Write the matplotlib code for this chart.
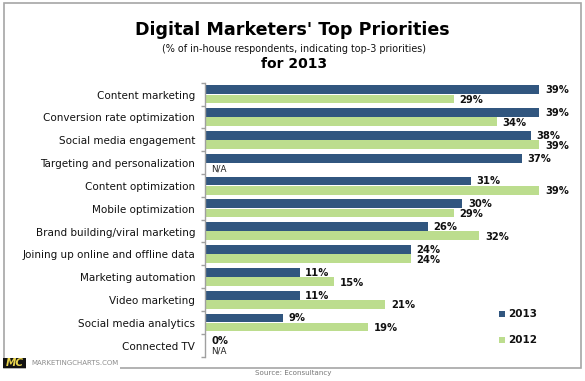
import matplotlib
matplotlib.use("Agg")
import matplotlib.pyplot as plt
from matplotlib.patches import Rectangle
from matplotlib.transforms import offset_copy

categories = ["Content marketing", "Conversion rate optimization", "Social media engagement",
              "Targeting and personalization", "Content optimization", "Mobile optimization",
              "Brand building/viral marketing", "Joining up online and offline data",
              "Marketing automation", "Video marketing", "Social media analytics", "Connected TV"]
values_2013 = [39, 39, 38, 37, 31, 30, 26, 24, 11, 11, 9, 0]
values_2012 = [29, 34, 39, None, 39, 29, 32, 24, 15, 21, 19, None]
series_names = ["2013", "2012"]

W, H = 585, 381
NAVY, GREEN = "#31567F", "#BCDD8E"
plt.rcParams['font.family'] = ['DejaVu Sans']
fig = plt.figure(figsize=(W/100, H/100), dpi=100, facecolor="white")

def fx(x): return x / W
def fy(y): return 1 - y / H

# frame
fig.add_artist(Rectangle((fx(3.5), fy(368)), (580.5-3.5)/W, (368-2.7)/H, fill=False, ec="#A6A6A6", lw=1.2,
                         transform=fig.transFigure))

left, right, top, bottom = 205.5, 578, 82.7, 356.5
ax = fig.add_axes([fx(left), fy(bottom), (right-left)/W, (bottom-top)/H])
ax.patch.set_alpha(0)
ax.set_xlim(0, (right-left)/8.56)
ax.set_ylim(len(categories)-0.5, -0.5)
for s in ["top", "right", "bottom"]:
    ax.spines[s].set_visible(False)
ax.spines["left"].set_color("#A0A0A0")
ax.spines["left"].set_linewidth(1.0)
ax.set_xticks([])
ax.set_yticks([i-0.5 for i in range(len(categories)+1)])
ax.set_yticklabels([])
ax.tick_params(axis="y", length=3, width=1, color="#A0A0A0")

h = 0.385
label_trans = offset_copy(ax.transData, fig=fig, x=0, y=-1.5, units="dots")
for i, name in enumerate(categories):
    ax.text(-1.22, i, name, ha="right", va="center", fontsize=7.5, color="#111111", transform=label_trans)
    a, b = values_2013[i], values_2012[i]
    ax.barh(i-0.19, a, height=h, color=NAVY, edgecolor="none")
    ax.text(a+0.65, i-0.17, f"{a}%", ha="left", va="center", fontsize=7.2, fontweight="bold", color="#111111")
    if b is None:
        ax.text(0.6, i+0.28, "N/A", ha="left", va="center", fontsize=6.3, color="#222222")
    else:
        ax.barh(i+0.21, b, height=h, color=GREEN, edgecolor="none")
        ax.text(b+0.65, i+0.26, f"{b}%", ha="left", va="center", fontsize=7.2, fontweight="bold", color="#111111")

# titles
fig.text(fx(292.5), fy(29.8), "Digital Marketers' Top Priorities", ha="center", va="center",
         fontsize=12.6, fontweight="bold", color="black")
fig.text(fx(293.5), fy(48.7), "(% of in-house respondents, indicating top-3 priorities)", ha="center", va="center",
         fontsize=6.95, color="#111111")
fig.text(fx(294.5), fy(63.5), "for 2013", ha="center", va="center", fontsize=10, fontweight="bold", color="black")

# legend
for name, col, y in zip(series_names, [NAVY, GREEN], [314, 340]):
    fig.add_artist(Rectangle((fx(499), fy(y+3)), 6/W, 6/H, fc=col, ec="none", transform=fig.transFigure))
    fig.text(fx(508), fy(y), name, ha="left", va="center", fontsize=7.5, fontweight="bold", color="#111111")

# logo and source
fig.add_artist(Rectangle((fx(3), fy(368)), 23/W, 10.5/H, fc="#111111", ec="none", transform=fig.transFigure, zorder=5))
fig.text(fx(14.5), fy(362.8), "MC", ha="center", va="center", fontsize=7.5, fontweight="bold",
         style="italic", color="#E8D44D", zorder=6)
fig.add_artist(Rectangle((fx(26), fy(369)), 94/W, 13/H, fc="white", ec="none", transform=fig.transFigure, zorder=2))
fig.text(fx(31), fy(363), "MARKETINGCHARTS.COM", ha="left", va="center", fontsize=5.05, color="#8C8C8C", zorder=6)
fig.text(fx(293.5), fy(373.5), "Source: Econsultancy", ha="center", va="center", fontsize=5.1, color="#777777")

fig.savefig("out.png", dpi=100)
